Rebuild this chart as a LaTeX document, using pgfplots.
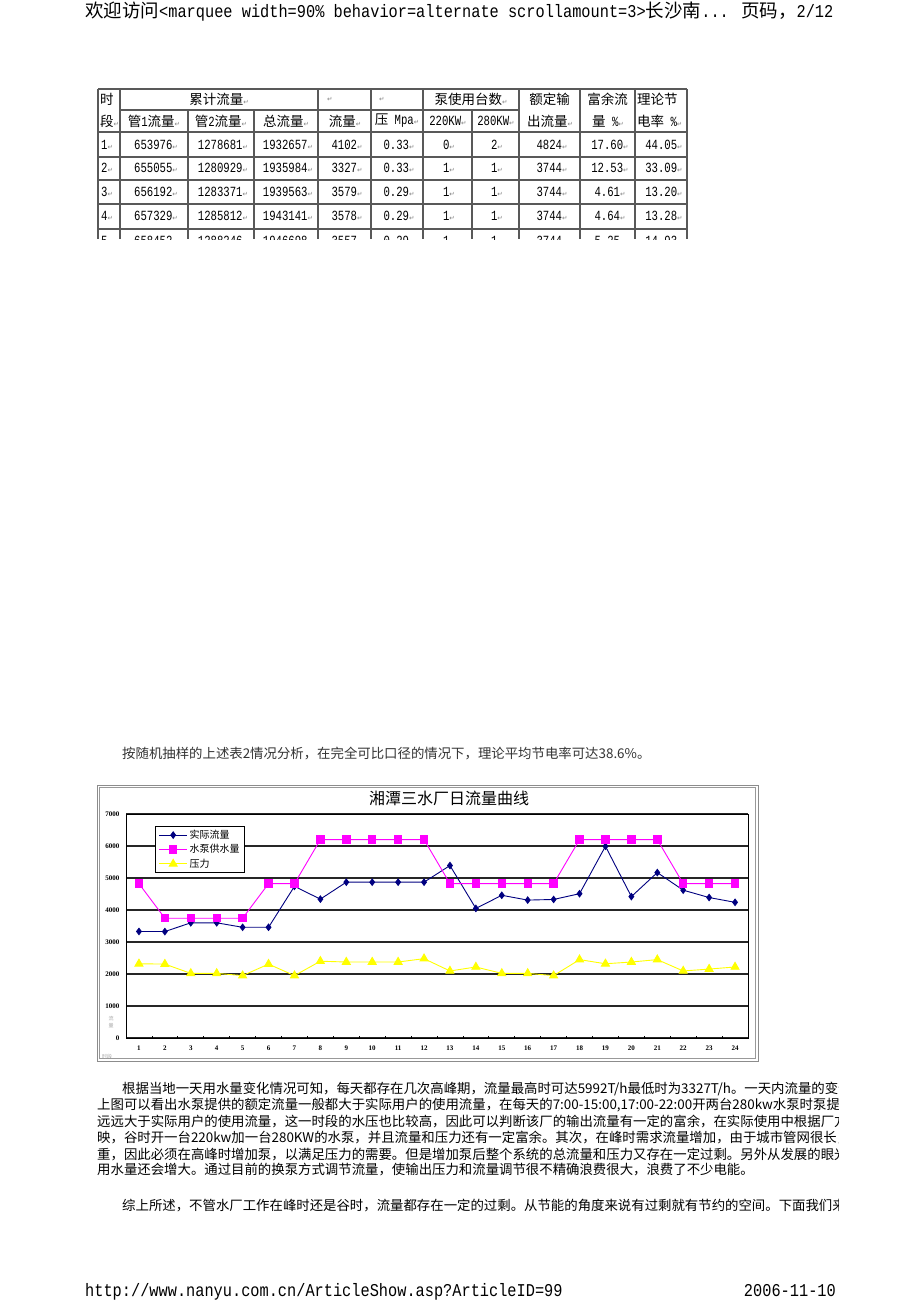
\documentclass[border=0pt]{standalone}
\usepackage{graphicx}
\usepackage{fontspec}
\usepackage{pgfplots}
\pgfplotsset{compat=1.18}
\setmainfont{Noto Sans CJK SC}
\newfontfamily\mono{Liberation Mono}
\newfontfamily\lserif{Liberation Serif}
\newfontfamily\dv{DejaVu Sans}
\definecolor{navy}{RGB}{0,0,128}
\definecolor{mag}{RGB}{255,0,255}
\definecolor{yel}{RGB}{255,255,0}
\newcommand\hm[1]{\scalebox{0.85}[1]{\fontsize{18}{18}\selectfont\mono #1}}
\newcommand\hc[1]{{\fontsize{18.5}{18.5}\selectfont #1}}
\newcommand\tm[1]{\scalebox{0.76}[1]{\fontsize{14}{14}\selectfont\mono #1}}
\newcommand\tc[1]{{\fontsize{13.5}{13.5}\selectfont #1}}
\newcommand\rt{{\color{black!50}\fontsize{6.5}{6.5}\selectfont\dv ↵}}
\newcommand\para{\fontsize{13.4}{13.4}\selectfont}
\begin{document}
\begin{tikzpicture}
\useasboundingbox (0,0) rectangle (920pt,-1302pt);
\fill[white] (0,0) rectangle (920pt,-1302pt);
\begin{scope}[x=1pt,y=-1pt,every node/.style={inner sep=0pt}]
% header
\node[anchor=base west] at (85,17) {\hc{欢迎访问}\hm{<marquee width=90\% behavior=alternate scrollamount=3>}\hc{长沙南}\hm{... }\hc{页码，}\hm{2/12}};
% footer
\node[anchor=base west] at (85,1296) {\hm{http://www.nanyu.com.cn/ArticleShow.asp?ArticleID=99}};
\node[anchor=base east] at (836,1296) {\hm{2006-11-10}};
% table
\begin{scope}[line width=1.4pt, draw=black!65]
\draw (98,89) -- (687,89);
\draw (120,110) -- (519,110);
\foreach \y in {132,157,180,204,229} \draw (98,\y) -- (687,\y);
\foreach \x in {98,120,318,371,423,519,580,635,687} \draw (\x,89) -- (\x,239);
\foreach \x in {188,254,472} \draw (\x,110) -- (\x,239);
\end{scope}
\node[anchor=west] at (100,99) {\tc{时}};
\node[anchor=west] at (100,121) {\tc{段}\rt};
\node at (219,99) {\tc{累计流量}\rt};
\node[anchor=west] at (327,99) {\rt};
\node[anchor=west] at (379,99) {\rt};
\node at (471,99) {\tc{泵使用台数}\rt};
\node at (549.5,99) {\tc{额定输}};
\node at (607.5,99) {\tc{富余流}};
\node[anchor=west] at (637,99) {\tc{理论节}};
\node at (154,121) {\tc{管}\tm{1}\tc{流量}\rt};
\node at (221,121) {\tc{管}\tm{2}\tc{流量}\rt};
\node at (286,121) {\tc{总流量}\rt};
\node at (345,121) {\tc{流量}\rt};
\node at (397,121) {\tc{压}\tm{ Mpa}\rt};
\node at (448,121) {\tm{220KW}\rt};
\node at (496,121) {\tm{280KW}\rt};
\node at (550,121) {\tc{出流量}\rt};
\node at (608,121) {\tc{量}\tm{ \%}\rt};
\node[anchor=west] at (637,121) {\tc{电率}\tm{ \%}\rt};
\foreach \y/\a/\b/\c/\d/\e/\f/\g/\h/\i/\j/\k in {
 145/1/653976/1278681/1932657/4102/0.33/0/2/4824/17.60/44.05,
 168/2/655055/1280929/1935984/3327/0.33/1/1/3744/12.53/33.09,
 192/3/656192/1283371/1939563/3579/0.29/1/1/3744/4.61/13.20,
 216/4/657329/1285812/1943141/3578/0.29/1/1/3744/4.64/13.28}{
 \node[anchor=west] at (101,\y) {\tm{\a}\rt};
 \node at (156,\y) {\tm{\b}\rt};
 \node at (223,\y) {\tm{\c}\rt};
 \node at (288,\y) {\tm{\d}\rt};
 \node at (347,\y) {\tm{\e}\rt};
 \node at (399,\y) {\tm{\f}\rt};
 \node at (449,\y) {\tm{\g}\rt};
 \node at (497,\y) {\tm{\h}\rt};
 \node at (552,\y) {\tm{\i}\rt};
 \node at (610,\y) {\tm{\j}\rt};
 \node at (664,\y) {\tm{\k}\rt};
}
\begin{scope}
\clip (98,229) rectangle (687,239);
\node[anchor=west] at (101,241) {\tm{5}\rt};
\node at (156,241) {\tm{658452}\rt};
\node at (223,241) {\tm{1288246}\rt};
\node at (288,241) {\tm{1946698}\rt};
\node at (347,241) {\tm{3557}\rt};
\node at (399,241) {\tm{0.29}\rt};
\node at (449,241) {\tm{1}\rt};
\node at (497,241) {\tm{1}\rt};
\node at (552,241) {\tm{3744}\rt};
\node at (610,241) {\tm{5.25}\rt};
\node at (664,241) {\tm{14.93}\rt};
\end{scope}
% sentence above chart
\node[anchor=base west, text=black!80] at (122,758) {\para 按随机抽样的上述表2情况分析，在完全可比口径的情况下，理论平均节电率可达38.6\%。};
% paragraphs
\begin{scope}
\clip (0,1060) rectangle (838,1230);
\node[anchor=base west] at (122,1093) {\para 根据当地一天用水量变化情况可知，每天都存在几次高峰期，流量最高时可达5992T/h最低时为3327T/h。一天内流量的变化};
\node[anchor=base west] at (97,1109) {\para 上图可以看出水泵提供的额定流量一般都大于实际用户的使用流量，在每天的7:00-15:00,17:00-22:00开两台280kw水泵时泵提供};
\node[anchor=base west] at (97,1126) {\para 远远大于实际用户的使用流量，这一时段的水压也比较高，因此可以判断该厂的输出流量有一定的富余，在实际使用中根据厂方};
\node[anchor=base west] at (97,1142) {\para 映，谷时开一台220kw加一台280KW的水泵，并且流量和压力还有一定富余。其次，在峰时需求流量增加，由于城市管网很长，};
\node[anchor=base west] at (97,1159) {\para 重，因此必须在高峰时增加泵，以满足压力的需要。但是增加泵后整个系统的总流量和压力又存在一定过剩。另外从发展的眼光};
\node[anchor=base west] at (97,1174) {\para 用水量还会增大。通过目前的换泵方式调节流量，使输出压力和流量调节很不精确浪费很大，浪费了不少电能。};
\node[anchor=base west] at (122,1210) {\para 综上所述，不管水厂工作在峰时还是谷时，流量都存在一定的过剩。从节能的角度来说有过剩就有节约的空间。下面我们来};
\end{scope}
% chart frame
\draw[black!45, line width=1pt] (97,785) rectangle (758,1061);
\draw[black!40, line width=0.8pt] (99.5,787.5) rectangle (755.5,1058.5);
\node at (449,798) {\fontsize{16}{16}\selectfont 湘潭三水厂日流量曲线};
\node[text=black!35] at (111,1019) {\fontsize{5}{5}\selectfont 流};
\node[text=black!35] at (111,1026) {\fontsize{5}{5}\selectfont 量};
\node[text=black!35] at (107,1057) {\fontsize{5}{5}\selectfont 时段};
\end{scope}
\begin{axis}[
 at={(126pt,-1038pt)}, anchor=south west,
 scale only axis, width=622pt, height=224pt,
 xmin=0.5, xmax=24.5, ymin=0, ymax=7000,
 xtick={1,...,24}, ytick={0,1000,...,7000},
 minor xtick={1.5,2.5,...,23.5},
 major tick length=0pt, minor tick length=2.5pt,
 minor tick style={black, line width=0.8pt},
 tick align=inside, tick pos=left,
 ymajorgrids, major grid style={black!85, line width=1.2pt},
 axis line style={black, line width=1pt},
 ticklabel style={font=\lserif\bfseries\fontsize{7}{7}\selectfont},
 /pgf/number format/assume math mode=true,
 /pgf/number format/1000 sep={},
 xticklabel style={yshift=-4pt},
 yticklabel style={xshift=-3pt},
 legend style={at={(0.047,0.946)}, anchor=north west, draw=black, line width=1pt,
   fill=white, font=\fontsize{10}{10.5}\selectfont, inner xsep=3pt, inner ysep=1.5pt,
   row sep=0.5pt, cells={anchor=west}},
 legend image code/.code={\draw[mark repeat=2,mark phase=2,#1] plot coordinates {(0pt,0pt) (14pt,0pt) (28pt,0pt)};},
]
\addplot[navy, line width=0.9pt, mark=diamond*, mark size=3.2pt, mark options={fill=navy, draw=navy, solid}] coordinates {
(1,3330)(2,3327)(3,3600)(4,3600)(5,3460)(6,3460)(7,4740)(8,4340)(9,4870)(10,4870)(11,4870)(12,4870)
(13,5390)(14,4050)(15,4460)(16,4310)(17,4330)(18,4510)(19,5992)(20,4420)(21,5170)(22,4620)(23,4390)(24,4240)};
\addlegendentry{实际流量}
\addplot[mag, line width=0.9pt, mark=square*, mark size=3.7pt, mark options={fill=mag, draw=mag}] coordinates {
(1,4824)(2,3744)(3,3744)(4,3744)(5,3744)(6,4824)(7,4824)(8,6200)(9,6200)(10,6200)(11,6200)(12,6200)
(13,4824)(14,4824)(15,4824)(16,4824)(17,4824)(18,6200)(19,6200)(20,6200)(21,6200)(22,4824)(23,4824)(24,4824)};
\addlegendentry{水泵供水量}
\addplot[yel, line width=0.9pt, mark=triangle*, mark size=4.6pt, mark options={fill=yel, draw=yel}] coordinates {
(1,2320)(2,2310)(3,2020)(4,2020)(5,1950)(6,2310)(7,1950)(8,2400)(9,2375)(10,2375)(11,2375)(12,2480)
(13,2095)(14,2220)(15,2020)(16,2020)(17,1950)(18,2450)(19,2320)(20,2375)(21,2450)(22,2095)(23,2155)(24,2220)};
\addlegendentry{压力}
\end{axis}
\end{tikzpicture}
\end{document}
